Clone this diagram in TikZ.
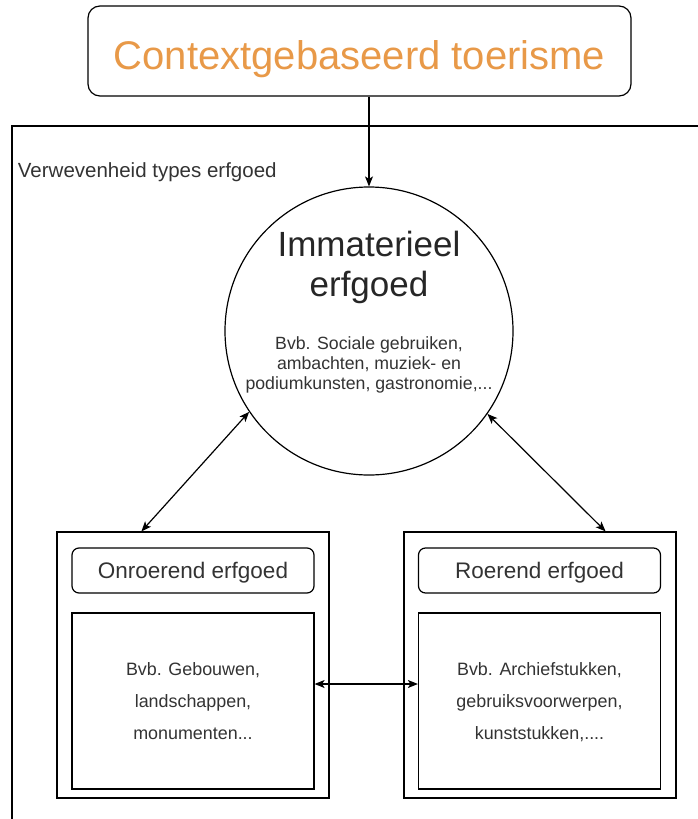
\documentclass[tikz,border=0pt]{standalone}
\usepackage{fontspec}
\setmainfont{Liberation Sans}
\usetikzlibrary{arrows.meta}
\definecolor{oranje}{RGB}{232,153,72}
\definecolor{tekst}{RGB}{51,51,51}

\begin{document}
\begin{tikzpicture}[x=1pt,y=-1pt,line width=1.2pt,
		pijl/.style={{Stealth[length=10pt,width=8pt,inset=2.5pt]}-{Stealth[length=10pt,width=8pt,inset=2.5pt]}},
		kop/.style={draw,rounded corners=7pt,minimum width=242pt,minimum height=45pt,text height=16.3pt,text depth=0pt,text=tekst,font=\fontsize{22.5}{26}\selectfont},
		inhoud/.style={draw,minimum width=242pt,minimum height=176pt,text depth=0pt,align=center,text=tekst,font=\fontsize{17.9}{32}\selectfont},
		blok/.style={draw,minimum width=272pt,minimum height=266pt}]
		\useasboundingbox (0,0) rectangle (698,819);
		\draw (698,126) -- (12,126) -- (12,819);
		\node[anchor=west,text=tekst,font=\fontsize{20.5}{24}\selectfont] (titel) at (14,172) {Verwevenheid types erfgoed};
		\node[draw,rounded corners=12pt,minimum width=543pt,minimum height=90pt,text height=36pt,text depth=0pt,text=oranje,font=\fontsize{40}{46}\selectfont] (ctx) at (359.5,51) {Contextgebaseerd toerisme};
		\node[circle,draw,minimum size=288pt,inner sep=0pt] (imm) at (369,331) {};
		\node[align=center,text=black!85,font=\fontsize{35}{40}\selectfont] (immkop) at (369,267) {Immaterieel\\erfgoed};
		\node[align=center,text=tekst,font=\fontsize{17.7}{20}\selectfont] (immtxt) at (369,365) {Bvb. Sociale gebruiken,\\ambachten, muziek- en\\podiumkunsten, gastronomie,...};
		\node[blok] (onr) at (193,665) {};
		\node[kop] (onrkop) at (193,570.5) {Onroerend erfgoed};
		\node[inhoud] (onrtxt) at (193,701) {Bvb. Gebouwen,\\landschappen,\\monumenten...};
		\node[blok] (roe) at (540,665) {};
		\node[kop] (roekop) at (539.5,570.5) {Roerend erfgoed};
		\node[inhoud] (roetxt) at (539.5,701) {Bvb. Archiefstukken,\\gebruiksvoorwerpen,\\kunststukken,....};
		\draw[-{Stealth[length=10pt,width=8pt,inset=2.5pt]}] (ctx.south -| imm.north) -- (imm.north);
		\draw[pijl] (imm.214) -- ([xshift=85pt]onr.north west);
		\draw[pijl] (imm.325) -- ([xshift=-71pt]roe.north east);
		\draw[pijl] ([yshift=17pt]onrtxt.east) -- ([yshift=17pt]roetxt.west);
\end{tikzpicture}
\end{document}
